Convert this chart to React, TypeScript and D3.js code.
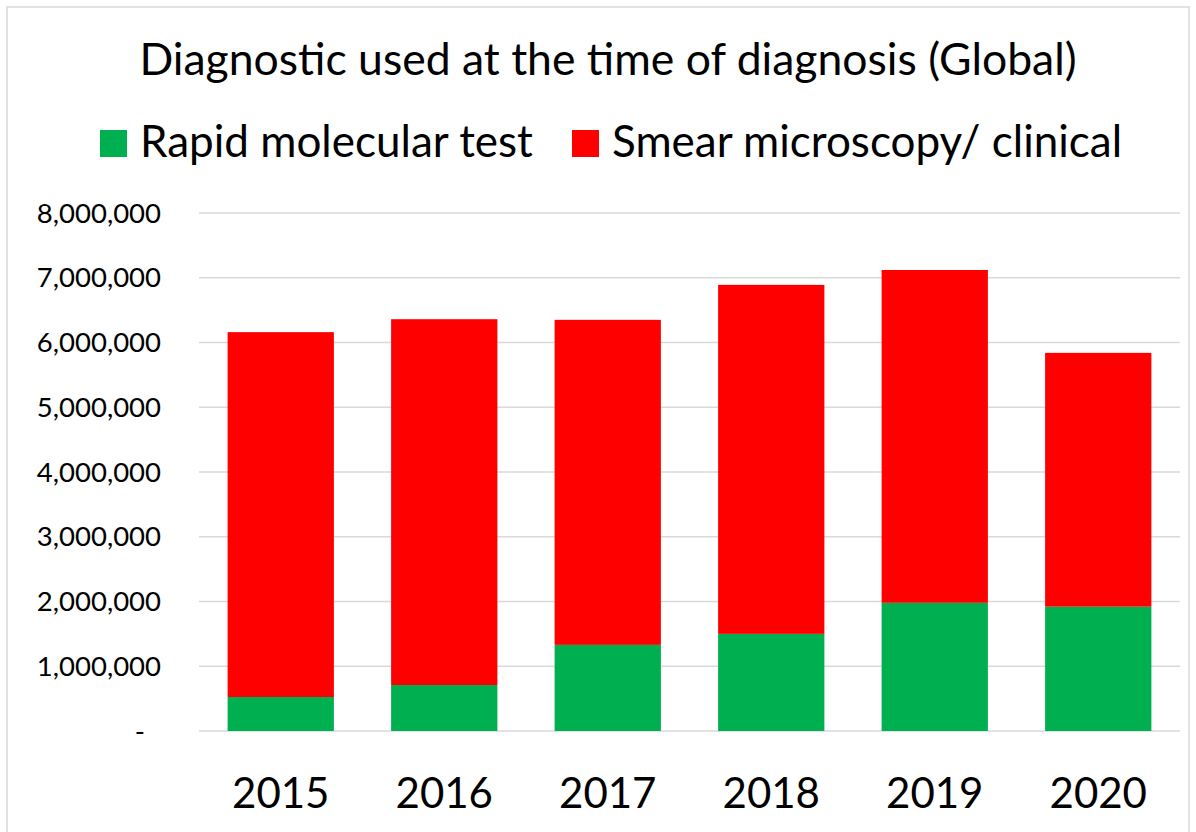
import React from "react";
import * as d3 from "d3";

const years = ["2015", "2016", "2017", "2018", "2019", "2020"];
const rapidMolecular = [525000, 710000, 1330000, 1500000, 1980000, 1920000];
const smearClinical = [5635000, 5650000, 5020000, 5390000, 5140000, 3920000];
const yTicks = [0, 1000000, 2000000, 3000000, 4000000, 5000000, 6000000, 7000000, 8000000];
const seriesNames = ["Rapid molecular test", "Smear microscopy/ clinical"];
const seriesColors = ["#00b050", "#ff0000"];

const W = 1196;
const H = 832;
const FONT = "Lato, 'Open Sans', sans-serif";

export default function App() {
	const x = d3.scaleBand<string>()
		.domain( years )
		.range( [ 199, 1180 ] )
		.paddingInner( 0.35 )
		.paddingOuter( 0.175 );

	const y = d3.scaleLinear()
		.domain( [ 0, 8000000 ] )
		.range( [ 731, 213 ] );

	const rows = years.map( ( yr, i ) => ({ year: yr, rapid: rapidMolecular[ i ], smear: smearClinical[ i ] }) );
	const stacked = d3.stack<any>().keys( [ "rapid", "smear" ] )( rows );

	const fmt = d3.format( ",.0f" );

	return (
		<svg width={ W } height={ H } style={{ position: "absolute", left: 0, top: 0, background: "#fff" }} fontFamily={ FONT }>
			<rect x={ 7 } y={ 7 } width={ 1182 } height={ 840 } fill="#fff" stroke="#d9d9d9" strokeWidth={ 1.5 } />

			<text x={ 608 } y={ 75 } textAnchor="middle" fontSize={ 44.5 } fill="#000">
				Diagnostic used at the time of diagnosis (Global)
			</text>

			{/* legend */}
			<rect x={ 100 } y={ 130 } width={ 27 } height={ 27 } fill={ seriesColors[ 0 ] } />
			<text x={ 140 } y={ 157 } fontSize={ 44 } fill="#000">{ seriesNames[ 0 ] }</text>
			<rect x={ 572 } y={ 130 } width={ 27 } height={ 27 } fill={ seriesColors[ 1 ] } />
			<text x={ 612 } y={ 157 } fontSize={ 44 } fill="#000">{ seriesNames[ 1 ] }</text>

			{/* gridlines */}
			{ yTicks.map( t => (
				<line key={ t } x1={ 199 } x2={ 1180 } y1={ y( t ) } y2={ y( t ) } stroke="#d9d9d9" strokeWidth={ 1.5 } />
			)) }

			{/* y labels */}
			{ yTicks.map( t => (
				t === 0
					? <text key={ t } x={ 145 } y={ y( t ) } dy="0.35em" textAnchor="end" fontSize={ 27.5 } fill="#000">-</text>
					: <text key={ t } x={ 161 } y={ y( t ) } dy="0.35em" textAnchor="end" fontSize={ 27.5 } fill="#000">{ fmt( t ) }</text>
			)) }

			{/* bars */}
			{ stacked.map( ( s, si ) => (
				<g key={ s.key } fill={ seriesColors[ si ] }>
					{ s.map( ( d: any ) => (
						<rect key={ d.data.year } x={ x( d.data.year ) } y={ y( d[ 1 ] ) } width={ x.bandwidth() } height={ y( d[ 0 ] ) - y( d[ 1 ] ) } />
					)) }
				</g>
			)) }

			{/* x labels */}
			{ years.map( yr => (
				<text key={ yr } x={ ( x( yr ) as number ) + x.bandwidth() / 2 } y={ 808 } textAnchor="middle" fontSize={ 42 } fill="#000">{ yr }</text>
			)) }
		</svg>
	);
}
